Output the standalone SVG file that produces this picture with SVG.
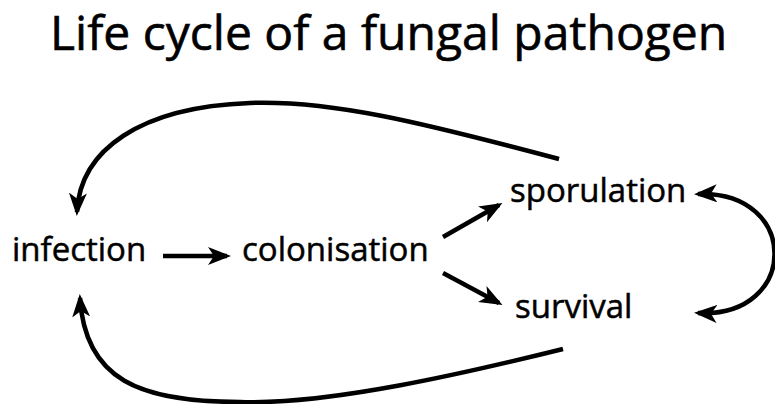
<svg xmlns="http://www.w3.org/2000/svg" width="775" height="404" viewBox="0 0 775 404">
  <defs>
    <style>
      .lbl { font-family: "Open Sans", "Noto Sans", "Liberation Sans", sans-serif; font-size: 33px; fill: #000; stroke: #000; stroke-width: 0.5; }
      .title { font-family: "Open Sans", "Noto Sans", "Liberation Sans", sans-serif; font-size: 48px; fill: #000; stroke: #000; stroke-width: 0.6; }
      .conn { fill: none; stroke: #000; stroke-width: 4.5; stroke-linecap: butt; }
    </style>
    <marker id="ah" markerUnits="userSpaceOnUse" markerWidth="24" markerHeight="20" refX="19" refY="9" orient="auto-start-reverse" viewBox="0 0 24 20">
      <path d="M0,0 L23,9 L0,18 L6,9 Z" fill="#000"/>
    </marker>
  </defs>
  <rect width="775" height="404" fill="#fff"/>
  <g id="title">
    <text class="title" x="50" y="50">Life cycle of a fungal pathogen</text>
  </g>
  <g id="node-infection">
    <text class="lbl" x="12" y="261">infection</text>
  </g>
  <g id="node-colonisation">
    <text class="lbl" x="242" y="261">colonisation</text>
  </g>
  <g id="node-sporulation">
    <text class="lbl" x="510" y="202">sporulation</text>
  </g>
  <g id="node-survival">
    <text class="lbl" x="515" y="318">survival</text>
  </g>
  <g id="connectors">
    <path class="conn" d="M163,256 L227,256" marker-end="url(#ah)"/>
    <path class="conn" d="M443,237 L499,205" marker-end="url(#ah)"/>
    <path class="conn" d="M443,273 L499,303" marker-end="url(#ah)"/>
    <path class="conn" d="M559,159 C420,122 330,100 250,103 C140,107 80,150 77,212" marker-end="url(#ah)"/>
    <path class="conn" d="M563,349 C470,372 330,405 240,402 C140,402 85,380 80,298" marker-end="url(#ah)"/>
    <path class="conn" d="M698,194 C800,190 800,318 698,313" marker-start="url(#ah)" marker-end="url(#ah)"/>
  </g>
</svg>
